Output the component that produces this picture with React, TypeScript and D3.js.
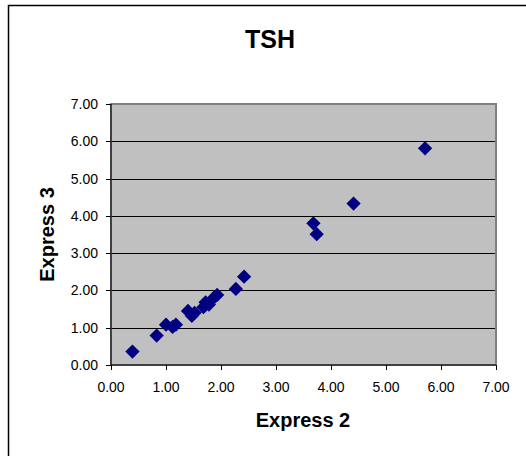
import React from "react";
import * as d3 from "d3";

const xValues = [0.39, 0.83, 1.0, 1.12, 1.18, 1.4, 1.47, 1.52, 1.68, 1.72, 1.78, 1.88, 1.93, 2.27, 2.42, 3.68, 3.74, 4.41, 5.71];
const yValues = [0.36, 0.79, 1.08, 1.02, 1.08, 1.45, 1.32, 1.4, 1.55, 1.68, 1.62, 1.82, 1.88, 2.04, 2.37, 3.8, 3.51, 4.33, 5.81];
const tickValues = [0, 1, 2, 3, 4, 5, 6, 7];
const title = "TSH";
const xTitle = "Express 2";
const yTitle = "Express 3";

export default function App() {
  const W = 526, H = 456;
  const left = 111, right = 496, top = 104, bottom = 365;
  const x = d3.scaleLinear().domain([0, 7]).range([left, right]);
  const y = d3.scaleLinear().domain([0, 7]).range([bottom, top]);
  const font = "'Liberation Sans', Arial, sans-serif";
  const diamond = d3.symbol().type(d3.symbolDiamond2).size(130)() as string;
  const fmt = d3.format(".2f");
  return (
    <svg width={W} height={H} style={{ position: "absolute", left: 0, top: 0, background: "#fff" }} fontFamily={font}>
      <rect x={8.5} y={5.5} width={540} height={480} fill="#fff" stroke="#000" strokeWidth={1.5} />
      <text x={270} y={48} textAnchor="middle" fontSize={25} fontWeight="bold">{title}</text>
      <rect x={left} y={top} width={right - left} height={bottom - top} fill="#c0c0c0" />
      {tickValues.slice(1, -1).map((t) => (
        <line key={"g" + t} x1={left} x2={right} y1={Math.round(y(t)) + 0.5} y2={Math.round(y(t)) + 0.5} stroke="#000" strokeWidth={1} />
      ))}
      <rect x={left} y={top} width={right - left} height={bottom - top} fill="none" stroke="#808080" strokeWidth={2} />
      <line x1={left} x2={left} y1={top} y2={bottom} stroke="#000" strokeWidth={1} />
      <line x1={left} x2={right} y1={bottom} y2={bottom} stroke="#000" strokeWidth={1} />
      {tickValues.map((t) => (
        <g key={"y" + t}>
          <line x1={left - 5} x2={left} y1={Math.round(y(t)) + 0.5} y2={Math.round(y(t)) + 0.5} stroke="#000" />
          <text x={98} y={y(t) + 5} textAnchor="end" fontSize={14}>{fmt(t)}</text>
        </g>
      ))}
      {tickValues.map((t) => (
        <g key={"x" + t}>
          <line x1={Math.round(x(t)) + 0.5} x2={Math.round(x(t)) + 0.5} y1={bottom} y2={bottom + 5} stroke="#000" />
          <text x={x(t)} y={392} textAnchor="middle" fontSize={14}>{fmt(t)}</text>
        </g>
      ))}
      <text x={303} y={427} textAnchor="middle" fontSize={20} fontWeight="bold">{xTitle}</text>
      <text transform={`translate(54,${(top + bottom) / 2}) rotate(-90)`} textAnchor="middle" fontSize={20} fontWeight="bold">{yTitle}</text>
      {xValues.map((v, i) => (
        <path key={"p" + i} d={diamond} transform={`translate(${x(v)},${y(yValues[i])})`} fill="#000080" />
      ))}
    </svg>
  );
}
